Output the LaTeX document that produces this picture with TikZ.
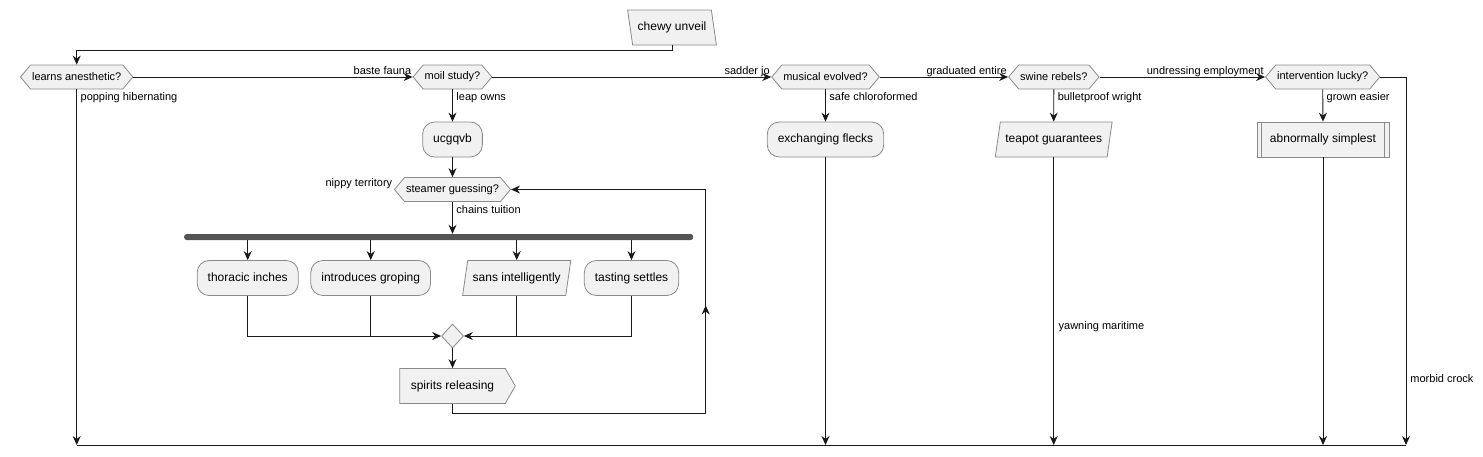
\documentclass[tikz,border=0pt]{standalone}
\usepackage{fontspec}
\setmainfont{Liberation Sans}
\usetikzlibrary{arrows.meta,shapes.geometric,shapes.symbols,decorations.markings}

\definecolor{nodefill}{HTML}{F1F1F1}
\definecolor{nodeedge}{HTML}{8A8A8A}
\definecolor{linecol}{HTML}{181818}
\definecolor{barfill}{HTML}{555555}

\begin{document}
\begin{tikzpicture}[
    x=1pt, y=1pt,
    font=\fontsize{11}{13}\selectfont,
    decision/.style={
        signal,
        signal to=west and east,
        signal pointer angle=100,
        draw=nodeedge,
        fill=nodefill,
        line width=0.8pt,
        minimum height=24pt,
        inner xsep=1.5pt,
        inner ysep=2pt
    },
    action/.style={
        draw=nodeedge,
        fill=nodefill,
        rounded corners=12pt,
        line width=0.8pt,
        minimum height=35pt,
        inner xsep=10.5pt,
        text height=8.6pt,
        text depth=2.4pt,
        font=\fontsize{12}{14}\selectfont
    },
    io/.style={
        trapezium,
        trapezium stretches=true,
        trapezium left angle=74,
        trapezium right angle=106,
        draw=nodeedge,
        fill=nodefill,
        line width=0.8pt,
        minimum height=35pt,
        inner xsep=5pt,
        text height=8.6pt,
        text depth=2.4pt,
        font=\fontsize{12}{14}\selectfont
    },
    sub/.style={
        rectangle,
        draw=nodeedge,
        fill=nodefill,
        line width=0.8pt,
        minimum height=35pt,
        inner xsep=13pt,
        text height=8.6pt,
        text depth=2.4pt,
        font=\fontsize{12}{14}\selectfont
    },
    sendbox/.style={
        signal,
        signal to=east,
        signal pointer angle=120,
        draw=nodeedge,
        fill=nodefill,
        line width=0.8pt,
        minimum height=35pt,
        inner xsep=11pt,
        text height=8.6pt,
        text depth=2.4pt,
        font=\fontsize{12}{14}\selectfont
    },
    bar/.style={
        fill=barfill,
        rounded corners=2.5pt,
        minimum width=509pt,
        minimum height=6pt,
        inner sep=0pt
    },
    merge/.style={
        diamond,
        draw=nodeedge,
        fill=nodefill,
        line width=0.8pt,
        minimum width=22pt,
        minimum height=24pt,
        inner sep=0pt
    },
    lbl/.style={
        inner sep=0pt
    },
    line/.style={
        draw=linecol,
        line width=0.9pt
    },
    arrow/.style={
        line,
        -{Stealth[length=9pt,width=8pt,inset=3pt]}
    }
]
\useasboundingbox (0,0) rectangle (1483,-456);

% start
\node[io, trapezium left angle=106, trapezium right angle=74] (start) at (672,-27.5) {chewy unveil};

% decisions along the top
\node[decision] (d1) at (76.7,-77) {learns anesthetic?};
\node[decision] (d2) at (452.5,-77) {moil study?};
\node[decision] (d3) at (825.5,-77) {musical evolved?};
\node[decision] (d4) at (1053.8,-77) {swine rebels?};
\node[decision] (d5) at (1322.7,-77) {intervention lucky?};

\node[action] (a1) at (452.5,-139.5) {ucgqvb};
\node[action] (a2) at (825.5,-139.5) {exchanging flecks};
\node[io] (a3) at (1053.7,-139.5) {teapot guarantees};
\node[sub] (a4) at (1323,-139.5) {abnormally simplest};
\draw[draw=nodeedge, line width=0.8pt] ([xshift=5pt]a4.north west) -- ([xshift=5pt]a4.south west);
\draw[draw=nodeedge, line width=0.8pt] ([xshift=-5pt]a4.north east) -- ([xshift=-5pt]a4.south east);

% loop
\node[decision] (w1) at (452.5,-189.5) {steamer guessing?};
\node[bar] (fork) at (438.7,-237) {};
\node[action] (b1) at (247.7,-278) {thoracic inches};
\node[action] (b2) at (370.7,-278) {introduces groping};
\node[io] (b3) at (516.7,-278) {sans intelligently};
\node[action] (b4) at (631.5,-278) {tasting settles};
\node[merge] (m1) at (452.5,-336) {};
\node[sendbox] (sp) at (452.5,-386) {spirits releasing};

\coordinate (top) at (0,-50);
\coordinate (loop) at (705.7,-413.3);
\coordinate (endL) at (76.7,-445);
\coordinate (endR) at (1406,-445);

\draw[arrow] (start.south) -- (start.south |- top) -| (d1.north);

\draw[arrow] (d1.east) -- (d2.west)
    node[lbl, pos=1, anchor=base east, xshift=-1pt, yshift=3pt] (lb1) {baste fauna};
\draw[arrow] (d2.east) -- (d3.west)
    node[lbl, pos=1, anchor=base east, xshift=-1pt, yshift=3pt] (lb2) {sadder jo};
\draw[arrow] (d3.east) -- (d4.west)
    node[lbl, pos=1, anchor=base east, xshift=-1pt, yshift=3pt] (lb3) {graduated entire};
\draw[arrow] (d4.east) -- (d5.west)
    node[lbl, pos=1, anchor=base east, xshift=-1pt, yshift=3pt] (lb4) {undressing employment};

\draw[arrow] (d1.south) -- (d1.south |- endL)
    node[lbl, pos=0, anchor=north west, xshift=3.5pt, yshift=-3pt] (lb5) {popping hibernating};
\draw[arrow] (d2.south) -- (a1.north)
    node[lbl, pos=0, anchor=north west, xshift=3.5pt, yshift=-3pt] (lb6) {leap owns};
\draw[arrow] (d3.south) -- (a2.north)
    node[lbl, pos=0, anchor=north west, xshift=3.5pt, yshift=-3pt] (lb7) {safe chloroformed};
\draw[arrow] (d4.south) -- (a3.north)
    node[lbl, pos=0, anchor=north west, xshift=3.5pt, yshift=-3pt] (lb8) {bulletproof wright};
\draw[arrow] (d5.south) -- (a4.north)
    node[lbl, pos=0, anchor=north west, xshift=3.5pt, yshift=-3pt] (lb9) {grown easier};

\draw[arrow] (a2.south) -- (a2.south |- endL);
\draw[arrow] (a3.south) -- (a3.south |- endL)
    node[lbl, pos=0.59, anchor=west, xshift=4.5pt] (lb10) {yawning maritime};
\draw[arrow] (a4.south) -- (a4.south |- endL);
\draw[arrow] (d5.east) -| (endR)
    node[lbl, pos=0.91, anchor=west, xshift=4pt] (lb11) {morbid crock};
\draw[line] (endL) -- (endR);

\draw[arrow] (a1.south) -- (w1.north);
\draw[arrow] (w1.south) -- (w1.south |- fork.north)
    node[lbl, pos=0, anchor=north west, xshift=3.5pt, yshift=-3pt] (lb12) {chains tuition};
\node[lbl, anchor=base east, xshift=-1.5pt, yshift=3pt] (lb13) at (w1.west) {nippy territory};

\foreach \b in {b1,b2,b3,b4}
    \draw[arrow] (\b.north |- fork.south) -- (\b.north);

\draw[arrow] (b1.south) |- (m1.west);
\draw[line] (b2.south) -- (b2.south |- m1.west);
\draw[arrow] (b4.south) |- (m1.east);
\draw[line] (b3.south) -- (b3.south |- m1.east);
\draw[arrow] (m1.south) -- (sp.north);

\draw[arrow, postaction={decorate}, decoration={markings,
    mark=at position 0.544 with {\arrow{Stealth[length=9pt,width=8pt,inset=3pt]}}}]
    (sp.south) |- (loop) |- (w1.east);

\end{tikzpicture}
\end{document}
